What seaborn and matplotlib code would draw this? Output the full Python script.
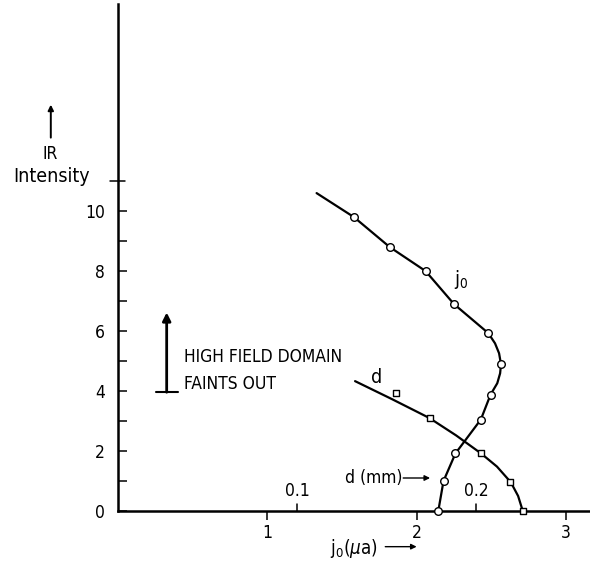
import matplotlib
matplotlib.use("Agg")
import matplotlib.pyplot as plt
import seaborn as sns
import pandas as pd

# Measured points: IR intensity vs. current j0 (microamps)
j0_intensity = [9.8, 8.8, 8.0, 6.9, 5.93, 4.89, 3.88, 3.05, 1.92, 1.0, 0.0]
j0_ua = [1.58, 1.82, 2.06, 2.25, 2.48, 2.565, 2.495, 2.43, 2.26, 2.18, 2.145]

# Hand-drawn curve through the j0 points
j0_curve_x = [1.33, 1.58, 1.82, 2.06, 2.25, 2.48, 2.525, 2.552, 2.565, 2.559,
              2.540, 2.495, 2.43, 2.26, 2.18, 2.145]
j0_curve_y = [10.6, 9.8, 8.8, 8.0, 6.9, 5.93, 5.59, 5.26, 4.89, 4.59,
              4.26, 3.88, 3.05, 1.92, 1.0, 0.0]

# Measured points: IR intensity vs. domain width d (mm)
d_intensity = [3.95, 3.1, 1.92, 0.96, 0.0]
d_mm = [0.155, 0.174, 0.2026, 0.219, 0.226]

# Hand-drawn curve through the d points
d_curve_mm = [0.1323, 0.1529, 0.1738, 0.1887, 0.2026, 0.2115, 0.2192,
              0.2233, 0.2259]
d_curve_y = [4.33, 3.73, 3.10, 2.52, 1.92, 1.48, 0.96, 0.50, 0.0]

# Ticks
j0_ticks = [1, 2, 3]
d_ticks = [0.1, 0.2]
y_major = [0, 2, 4, 6, 8, 10]
y_minor = [1, 3, 5, 7, 9]
y_cross = 11

MM_TO_J0 = 12.0  # horizontal units per mm on the shared axis

sns.set_theme(style="ticks")
plt.rcParams["font.family"] = ["DejaVu Sans"]
plt.rcParams["font.stretch"] = "condensed"
for key in ("text.color", "axes.labelcolor", "xtick.color", "ytick.color",
            "axes.edgecolor"):
    plt.rcParams[key] = "black"

fig = plt.figure(figsize=(5.9, 5.65), dpi=100)
ax = fig.add_axes([0.2, 0.0956, 0.8, 0.897])

lw = 1.6
df_j0 = pd.DataFrame({"j0": j0_curve_x, "I": j0_curve_y})
df_d = pd.DataFrame({"x": [v * MM_TO_J0 for v in d_curve_mm], "I": d_curve_y})
sns.lineplot(data=df_j0, x="j0", y="I", sort=False, estimator=None,
             color="black", lw=lw, ax=ax, zorder=2)
sns.lineplot(data=df_d, x="x", y="I", sort=False, estimator=None,
             color="black", lw=lw, ax=ax, zorder=2)

pts_j0 = pd.DataFrame({"j0": j0_ua, "I": j0_intensity})
pts_d = pd.DataFrame({"x": [v * MM_TO_J0 for v in d_mm], "I": d_intensity})
sns.scatterplot(data=pts_j0, x="j0", y="I", marker="o", s=30,
                facecolor="white", edgecolor="black", linewidth=1.0,
                ax=ax, zorder=3, clip_on=False)
sns.scatterplot(data=pts_d, x="x", y="I", marker="s", s=20,
                facecolor="white", edgecolor="black", linewidth=1.0,
                ax=ax, zorder=3, clip_on=False)

ax.set_xlim(0, 3.161)
ax.set_ylim(0, 16.9)
ax.set_xlabel("")
ax.set_ylabel("")
sns.despine(ax=ax)
for side in ("left", "bottom"):
    ax.spines[side].set_linewidth(1.8)
    ax.spines[side].set_color("black")

fs = 12.5
ax.set_xticks(j0_ticks)
ax.set_xticklabels([str(t) for t in j0_ticks])
ax.set_yticks(y_major)
ax.set_yticklabels([str(t) for t in y_major])
ax.set_yticks(y_minor, minor=True)
ax.tick_params(axis="x", direction="out", length=6.5, width=1.1, pad=3.0,
               labelsize=fs, colors="black")
ax.tick_params(axis="y", which="both", direction="in", length=6.5, width=1.1,
               pad=9.5, labelsize=fs, colors="black")

# tick crossing the vertical axis
ytr = ax.get_yaxis_transform()
ax.plot([-0.016, 0.014], [y_cross, y_cross], color="black", lw=1.1,
        transform=ytr, clip_on=False)

# secondary scale for d (mm), ticks drawn upward from the baseline
for t in d_ticks:
    xp = t * MM_TO_J0
    ax.plot([xp, xp], [0, 0.22], color="black", lw=1.1, clip_on=False)
    ax.text(xp, 0.66, f"{t:g}", ha="center", va="center", fontsize=fs)

# curve labels
ax.text(2.30, 7.72, r"j$_0$", ha="center", va="center", fontsize=14)
ax.text(1.73, 4.45, "d", ha="center", va="center", fontsize=14)

arrow_thin = dict(arrowstyle="-|>", lw=1.0, color="black", mutation_scale=8,
                  shrinkA=0, shrinkB=0)
ax.annotate("", xy=(2.09, 1.1), xytext=(1.91, 1.1), arrowprops=arrow_thin)
ax.text(1.905, 1.11, "d (mm)", ha="right", va="center", fontsize=fs)

# x-axis label with arrow
ax.annotate("", xy=(2.0, -1.19), xytext=(1.79, -1.19),
            arrowprops=arrow_thin, annotation_clip=False)
ax.text(1.58, -1.25, r"j$_0$($\mu$a)", ha="center", va="center",
        fontsize=13.5, clip_on=False)

# y-axis label with arrow
ax.annotate("", xy=(-0.45, 13.55), xytext=(-0.45, 12.45),
            arrowprops=dict(arrowstyle="-|>", lw=1.4, color="black",
                            mutation_scale=8, shrinkA=0, shrinkB=0),
            annotation_clip=False)
ax.text(-0.455, 11.92, "IR", ha="center", va="center", fontsize=fs,
        clip_on=False)
ax.text(-0.445, 11.17, "Intensity", ha="center", va="center", fontsize=14,
        clip_on=False)

# domain annotation
ax.annotate("", xy=(0.326, 6.62), xytext=(0.326, 3.96),
            arrowprops=dict(arrowstyle="-|>", lw=2.0, color="black",
                            mutation_scale=12, shrinkA=0, shrinkB=0))
ax.plot([0.255, 0.40], [3.96, 3.96], color="black", lw=1.5)
ax.text(0.442, 5.12, "HIGH FIELD DOMAIN", ha="left", va="center", fontsize=fs)
ax.text(0.442, 4.22, "FAINTS OUT", ha="left", va="center", fontsize=fs)

fig.savefig("out.png", dpi=100, facecolor="white")
